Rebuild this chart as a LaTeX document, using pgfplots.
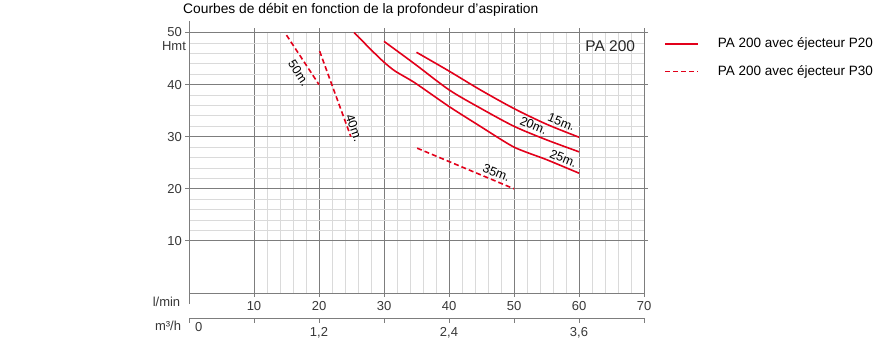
\documentclass[border=0pt]{standalone}
\usepackage{pgfplots}
\pgfplotsset{compat=1.18}
\usepackage{fontspec}
\setmainfont{Liberation Sans}
\definecolor{cred}{RGB}{226,0,26}
\definecolor{gmaj}{RGB}{125,125,125}
\definecolor{gmin}{RGB}{218,218,218}
\definecolor{txt}{RGB}{55,55,55}
\begin{document}
\begin{tikzpicture}[x=1pt,y=1pt]
\path[use as bounding box] (0,0) rectangle (894,-352);
\node[anchor=west, font=\fontsize{13.8}{15}\selectfont, text=black, inner sep=0pt] at (183,-10) {Courbes de débit en fonction de la profondeur d'aspiration};
\node[font=\fontsize{13}{15}\selectfont, text=txt, inner sep=0pt] at (174,-46) {Hmt};
\node[font=\fontsize{13}{15}\selectfont, text=txt, inner sep=0pt] at (166.5,-302) {l/min};
\node[font=\fontsize{13}{15}\selectfont, text=txt, inner sep=0pt] at (168,-326) {m³/h};
\begin{axis}[
 at={(189pt,-293pt)}, anchor=south west,
 scale only axis, width=455pt, height=260.5pt,
 xmin=0,xmax=70,ymin=0,ymax=50,
 xtick={10,20,...,70}, ytick={10,20,...,50},
 minor x tick num=4, minor y tick num=4,
 grid=both,
 major grid style={draw=gmaj, line width=0.8pt},
 minor grid style={draw=gmin, line width=0.8pt},
 axis line style={draw=gmaj, line width=0.9pt},
 tick style={draw=gmaj, line width=0.8pt},
 tick align=outside, major tick length=4pt, minor tick length=0pt,
 /pgf/number format/assume math mode=true,
 tick label style={font=\fontsize{13}{15}\selectfont, text=txt},
 xticklabel style={anchor=north, inner sep=0pt, yshift=-4pt},
 yticklabel style={anchor=east, inner sep=0pt, xshift=-3pt},
 extra x ticks={0}, extra x tick labels={}, extra x tick style={major tick length=11pt, grid=none},
 legend style={at={(1.044,0.981)}, anchor=north west, draw=none, fill=none, inner sep=0pt,
   font=\fontsize{13.5}{15}\selectfont, row sep=14.5pt,
   nodes={inner sep=0pt, text height=10pt, text depth=3pt}},
 legend cell align=left,
 legend image code/.code={\draw[#1] (0pt,0pt) -- (33pt,0pt);},
 /tikz/every odd column/.append style={column sep=19pt},
]
% 15 m (solid)
\addplot[cred, line width=1.6pt, smooth, tension=0.5] coordinates {
 (35,46.2) (40,42.6) (44.8,39.0) (50,35.4) (55,32.4) (60,29.9)};
\addlegendentry{PA 200 avec éjecteur P20}
% 50 m (dashed)
\addplot[cred, line width=1.6pt, dash pattern=on 5pt off 3pt] coordinates {
 (15,49.5) (20,40)};
\addlegendentry{PA 200 avec éjecteur P30}
% 20 m
\addplot[cred, line width=1.6pt, smooth, tension=0.5, forget plot] coordinates {
 (30,48.3) (34.8,43.9) (40,39.0) (44.8,35.5) (50,32.0) (55,29.4) (60,27.1)};
% 25 m
\addplot[cred, line width=1.6pt, smooth, tension=0.4, forget plot] coordinates {
 (25.4,50) (28,46.7) (30,44.3) (31.7,42.6) (34.8,40.3) (40,35.8) (44.8,32.0) (50,28.0) (55,25.6) (60,23.0)};
% 40 m
\addplot[cred, line width=1.6pt, dash pattern=on 5pt off 3pt, forget plot] coordinates {
 (20.1,46.4) (24.9,30)};
% 35 m
\addplot[cred, line width=1.6pt, dash pattern=on 5pt off 3pt, forget plot] coordinates {
 (35.1,27.8) (50,20)};
\node[font=\fontsize{12.5}{14}\selectfont, rotate=-22, inner sep=0pt] at (axis cs:57.3,32.8) {15m.};
\node[font=\fontsize{12.5}{14}\selectfont, rotate=-22, inner sep=0pt] at (axis cs:53,32.2) {20m.};
\node[font=\fontsize{12.5}{14}\selectfont, rotate=-22, inner sep=0pt] at (axis cs:57.6,25.8) {25m.};
\node[font=\fontsize{12.5}{14}\selectfont, rotate=-22, inner sep=0pt] at (axis cs:47.3,23.1) {35m.};
\node[font=\fontsize{12.5}{14}\selectfont, rotate=-57, inner sep=0pt] at (axis cs:16.9,42.2) {50m.};
\node[font=\fontsize{12.5}{14}\selectfont, rotate=-70, inner sep=0pt] at (axis cs:25.4,31.7) {40m.};
\node[font=\fontsize{15.5}{17}\selectfont, inner sep=0pt, text=black!85] at (axis cs:64.8,47.4) {PA 200};
\end{axis}
\begin{axis}[
 at={(189pt,-318pt)}, anchor=south west,
 scale only axis, width=455pt, height=5pt,
 xmin=0,xmax=70,ymin=0,ymax=1,
 axis x line*=bottom, hide y axis,
 axis line style={draw=gmaj, line width=0.9pt},
 tick style={draw=gmaj, line width=0.8pt},
 tick align=outside, major tick length=5pt,
 xtick={10,20,...,70}, xticklabels={,{1,2},,{2,4},,{3,6},},
 tick label style={font=\fontsize{13}{15}\selectfont, text=txt},
 xticklabel style={anchor=north, inner sep=0pt, yshift=-4pt},
 extra x ticks={0}, extra x tick labels={0},
 extra x tick style={xticklabel style={anchor=north west, xshift=6pt, yshift=5pt}},
]
\end{axis}
\end{tikzpicture}
\end{document}
